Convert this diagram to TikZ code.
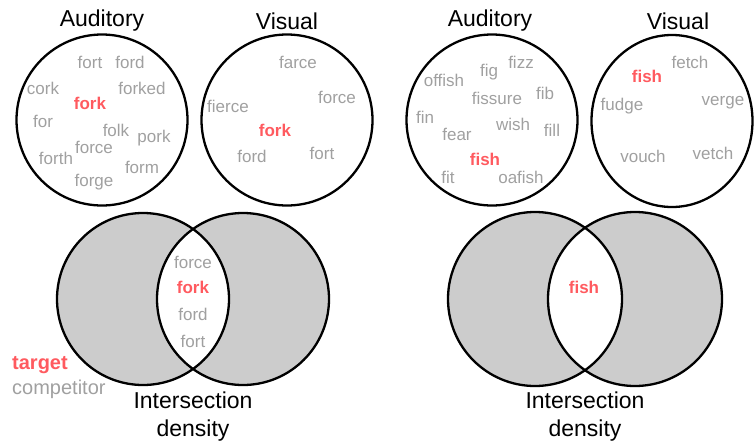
\documentclass[tikz,border=0pt]{standalone}
\usepackage{fontspec}
\usetikzlibrary{shapes.geometric}
\setmainfont{Liberation Sans}
\definecolor{wordgray}{HTML}{A0A0A0}
\definecolor{tgtred}{HTML}{FF5A5F}
\definecolor{venngray}{HTML}{CCCCCC}
\begin{document}
\begin{tikzpicture}[x=1pt,y=-1pt,
  ring/.style={circle, draw=black, line width=2.3pt, minimum size=171pt, inner sep=0pt},
  word/.style={text=wordgray, font=\fontsize{17}{20}\selectfont, inner sep=0pt},
  tgt/.style={text=tgtred, font=\fontsize{17}{20}\selectfont\bfseries, inner sep=0pt},
  ttl/.style={font=\fontsize{23}{26}\selectfont, inner sep=0pt},
  lgd/.style={font=\fontsize{20}{23}\selectfont, inner sep=0pt, anchor=west},
  vennline/.style={draw=black, line width=2.3pt}]
\useasboundingbox (0,0) rectangle (755,447);

% ---------- top circles ----------
\node[ttl] (tA1) at (102,21) {Auditory};
\node[ttl] (tV1) at (287,21) {Visual};
\node[ttl] (tA2) at (490,21) {Auditory};
\node[ttl] (tV2) at (678,21) {Visual};

\node[ring] (A1) at (102,120) {};
\node[ring] (V1) at (287,120) {};
\node[ring] (A2) at (492,120) {};
\node[ellipse, draw=black, line width=2.3pt, minimum width=161pt, minimum height=172pt, inner sep=0pt] (V2) at (672,121) {};

% left auditory words
\node[word] (a1) at (90,62) {fort};
\node[word] (a2) at (130,62) {ford};
\node[word] (a3) at (43,88) {cork};
\node[word] (a4) at (142,88) {forked};
\node[tgt]  (a5) at (90,103) {fork};
\node[word] (a6) at (43,121) {for};
\node[word] (a7) at (116,130) {folk};
\node[word] (a8) at (154,138) {pork};
\node[word] (a9) at (94,147) {force};
\node[word] (a10) at (56,158) {forth};
\node[word] (a11) at (142,167) {form};
\node[word] (a12) at (94,182) {forge};

% left visual words
\node[word] (v1) at (298,62) {farce};
\node[word] (v2) at (337,97) {force};
\node[word] (v3) at (228,106) {fierce};
\node[tgt]  (v4) at (275,130) {fork};
\node[word] (v5) at (252,156) {ford};
\node[word] (v6) at (322,153) {fort};

% right auditory words
\node[word] (b1) at (521,62) {fizz};
\node[word] (b2) at (489,72) {fig};
\node[word] (b3) at (444,80) {offish};
\node[word] (b4) at (497,98) {fissure};
\node[word] (b5) at (545,93) {fib};
\node[word] (b6) at (425,117) {fin};
\node[word] (b7) at (513,124) {wish};
\node[word] (b8) at (552,130) {fill};
\node[word] (b9) at (457,134) {fear};
\node[tgt]  (b10) at (485,159) {fish};
\node[word] (b11) at (448,177) {fit};
\node[word] (b12) at (521,177) {oafish};

% right visual words
\node[word] (w1) at (690,62) {fetch};
\node[tgt]  (w2) at (647,76) {fish};
\node[word] (w3) at (622,106) {fudge};
\node[word] (w4) at (723,103) {verge};
\node[word] (w5) at (643,156) {vouch};
\node[word] (w6) at (713,153) {vetch};

% ---------- lower venns ----------
\coordinate (L1) at (143,299);
\coordinate (L2) at (243,299);
\coordinate (R1) at (535,299);
\coordinate (R2) at (635,299);

\fill[venngray] (L1) circle (86) (L2) circle (86);
\begin{scope}\clip (L1) circle (86); \fill[white] (L2) circle (86);\end{scope}
\draw[vennline] (L1) circle (86) (L2) circle (86);

\fill[venngray] (R1) circle (87) (R2) circle (87);
\begin{scope}\clip (R1) circle (87); \fill[white] (R2) circle (87);\end{scope}
\draw[vennline] (R1) circle (87) (R2) circle (87);

\node[word] (i1) at (193,262) {force};
\node[tgt]  (i2) at (193,287) {fork};
\node[word] (i3) at (193,314) {ford};
\node[word] (i4) at (193,341) {fort};

\node[tgt] (j1) at (584,287) {fish};

\node[ttl, align=center] (d1) at (193,417) {Intersection\\[2pt]density};
\node[ttl, align=center] (d2) at (585,417) {Intersection\\[2pt]density};

\node[lgd, text=tgtred, font=\fontsize{20}{23}\selectfont\bfseries] (lg1) at (12,365) {target};
\node[lgd, text=wordgray] (lg2) at (12,389) {competitor};
\end{tikzpicture}
\end{document}
